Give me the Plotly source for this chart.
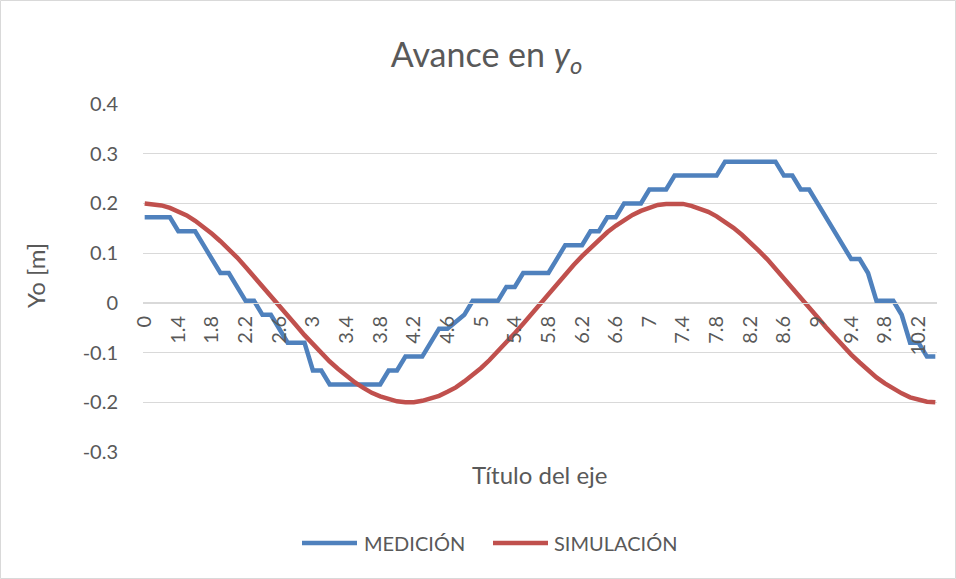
import plotly.graph_objects as go

# Time stamps (category axis, as in the spreadsheet column)
tiempo = ["0", "1.1", "1.2", "1.3", "1.4", "1.5", "1.6", "1.7", "1.8", "1.9",
          "2", "2.1", "2.2", "2.3", "2.4", "2.5", "2.6", "2.7", "2.8", "2.9",
          "3", "3.1", "3.2", "3.3", "3.4", "3.5", "3.6", "3.7", "3.8", "3.9",
          "4", "4.1", "4.2", "4.3", "4.4", "4.5", "4.6", "4.7", "4.8", "4.9",
          "5", "5.1", "5.2", "5.3", "5.4", "5.5", "5.6", "5.7", "5.8", "5.9",
          "6", "6.1", "6.2", "6.3", "6.4", "6.5", "6.6", "6.7", "6.8", "6.9",
          "7", "7.1", "7.2", "7.3", "7.4", "7.5", "7.6", "7.7", "7.8", "7.9",
          "8", "8.1", "8.2", "8.3", "8.4", "8.5", "8.6", "8.7", "8.8", "8.9",
          "9", "9.1", "9.2", "9.3", "9.4", "9.5", "9.6", "9.7", "9.8", "9.9",
          "10", "10.1", "10.2", "10.3", "10.4"]

# Measured position yo [m]
medicion = [0.172, 0.172, 0.172, 0.172, 0.144, 0.144, 0.144, 0.116, 0.088, 0.060,
            0.060, 0.032, 0.004, 0.004, -0.024, -0.024, -0.052, -0.080, -0.080, -0.080,
            -0.136, -0.136, -0.164, -0.164, -0.164, -0.164, -0.164, -0.164, -0.164, -0.136,
            -0.136, -0.108, -0.108, -0.108, -0.080, -0.052, -0.052, -0.038, -0.024, 0.004,
            0.004, 0.004, 0.004, 0.032, 0.032, 0.060, 0.060, 0.060, 0.060, 0.088,
            0.116, 0.116, 0.116, 0.144, 0.144, 0.172, 0.172, 0.200, 0.200, 0.200,
            0.228, 0.228, 0.228, 0.256, 0.256, 0.256, 0.256, 0.256, 0.256, 0.284,
            0.284, 0.284, 0.284, 0.284, 0.284, 0.284, 0.256, 0.256, 0.228, 0.228,
            0.200, 0.172, 0.144, 0.116, 0.088, 0.088, 0.060, 0.004, 0.004, 0.004,
            -0.024, -0.080, -0.080, -0.108, -0.108]

# Simulated position yo [m]
simulacion = [0.200, 0.199, 0.196, 0.191, 0.184, 0.176, 0.165, 0.153, 0.139, 0.124,
              0.108, 0.091, 0.072, 0.053, 0.034, 0.014, -0.006, -0.026, -0.045, -0.065,
              -0.083, -0.101, -0.118, -0.133, -0.147, -0.160, -0.171, -0.181, -0.188, -0.194,
              -0.198, -0.200, -0.200, -0.197, -0.193, -0.187, -0.179, -0.170, -0.158, -0.145,
              -0.131, -0.115, -0.098, -0.080, -0.061, -0.042, -0.022, -0.002, 0.017, 0.037,
              0.057, 0.076, 0.094, 0.111, 0.127, 0.142, 0.155, 0.167, 0.177, 0.185,
              0.192, 0.197, 0.199, 0.200, 0.199, 0.195, 0.190, 0.183, 0.174, 0.163,
              0.151, 0.137, 0.122, 0.105, 0.088, 0.069, 0.050, 0.031, 0.011, -0.009,
              -0.029, -0.049, -0.068, -0.086, -0.104, -0.120, -0.136, -0.150, -0.162, -0.173,
              -0.182, -0.190, -0.195, -0.199, -0.200]

y_ticks = [-0.3, -0.2, -0.1, 0, 0.1, 0.2, 0.3, 0.4]
y_tick_labels = ["-0.3", "-0.2", "-0.1", "0", "0.1", "0.2", "0.3", "0.4"]

series_names = ["MEDICIÓN", "SIMULACIÓN"]
series_colors = ["#4F81BD", "#C0504D"]

FONT = "Lato"
TEXT = "#595959"
GRID = "#D9D9D9"
LINE_W = 4.5

# plot-area geometry in pixels (used to place legend/titles in paper units)
W, H = 956, 579
L, R, T, B = 143, 19, 104, 127
PW, PH = W - L - R, H - T - B


def px_x(px):
    return (px - L) / PW


def px_y(py):
    return (H - B - py) / PH


fig = go.Figure()
for name, vals, col in zip(series_names, [medicion, simulacion], series_colors):
    fig.add_trace(go.Scatter(x=tiempo, y=vals, mode="lines", name=name,
                             line=dict(color=col, width=LINE_W)))

y_min, y_max = -0.3, 0.4

# legend drawn as sample lines + labels below the axis title
legend_y = px_y(543)
legend_items = [(302, 357, 362), (493, 548, 552)]
shapes = []
annotations = []
for (x0, x1, xt), name, col in zip(legend_items, series_names, series_colors):
    shapes.append(dict(type="line", xref="paper", yref="paper",
                       x0=px_x(x0), x1=px_x(x1), y0=legend_y, y1=legend_y,
                       line=dict(color=col, width=LINE_W)))
    annotations.append(dict(text=name, xref="paper", yref="paper",
                            x=px_x(xt), y=legend_y, xanchor="left", yanchor="middle",
                            showarrow=False,
                            font=dict(family=FONT, size=20, color=TEXT)))

# chart-area border
shapes.append(dict(type="rect", xref="paper", yref="paper", layer="below",
                   x0=px_x(0.5), x1=px_x(W - 0.5), y0=px_y(H - 0.5), y1=px_y(0.5),
                   line=dict(color=GRID, width=1), fillcolor="rgba(0,0,0,0)"))

annotations += [
    dict(text="Título del eje", xref="paper", yref="paper",
         x=px_x(539), y=px_y(474), xanchor="center", yanchor="middle",
         showarrow=False, font=dict(family=FONT, size=24, color=TEXT)),
    dict(text="Yo [m]", xref="paper", yref="paper",
         x=px_x(35), y=px_y(275), xanchor="center", yanchor="middle",
         textangle=-90, showarrow=False,
         font=dict(family=FONT, size=24, color=TEXT)),
]

fig.update_layout(
    width=W, height=H,
    margin=dict(l=L, r=R, t=T, b=B),
    paper_bgcolor="white", plot_bgcolor="white",
    font=dict(family=FONT, color=TEXT),
    showlegend=False,
    title=dict(text="Avance en <i>y</i><sub><i>o</i></sub>",
               x=0.509, xanchor="center", y=0.905, yanchor="middle",
               font=dict(family=FONT, size=34, color=TEXT)),
    xaxis=dict(type="category", range=[-0.2, len(tiempo) - 0.8],
               anchor="free", position=(0 - y_min) / (y_max - y_min),
               tickmode="linear", tick0=0, dtick=4, tickangle=-90,
               tickfont=dict(family=FONT, size=20, color=TEXT),
               ticks="", ticklabelstandoff=4,
               showgrid=False, zeroline=False,
               showline=True, linecolor=GRID, linewidth=1),
    yaxis=dict(range=[y_min, y_max], tickmode="array",
               tickvals=y_ticks, ticktext=y_tick_labels,
               tickfont=dict(family=FONT, size=20, color=TEXT),
               ticks="", ticklabelstandoff=24,
               showgrid=True, gridcolor=GRID, gridwidth=1,
               zeroline=False, showline=False),
    annotations=annotations,
    shapes=shapes,
)

fig.write_html("out.html")
